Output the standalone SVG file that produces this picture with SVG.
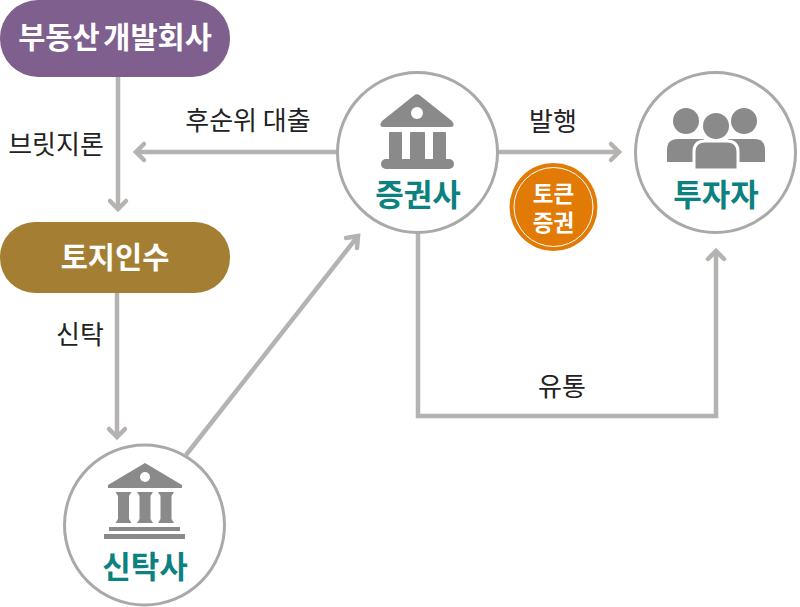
<svg xmlns="http://www.w3.org/2000/svg" width="800" height="607" viewBox="0 0 800 607">
<defs>
<style>
text{font-family:"Noto Sans CJK KR","Noto Sans",sans-serif;text-anchor:middle}
.lb{font-size:26px;fill:#222}
.nd{font-size:31px;font-weight:700;fill:#0b8180}
.pl{font-size:29.500px;font-weight:700;fill:#fff;word-spacing:-3px}
.c{fill:#fff;stroke:#a9a9a9;stroke-width:3}
.ic{fill:#8a8a8a}
.ln{fill:none;stroke:#b5b3b1;stroke-width:4.5}
.hd{fill:none;stroke:#b5b3b1;stroke-width:4.5;stroke-linecap:round;stroke-linejoin:miter}
</style>
<path id="col" d="M-8 0H8L5.500 4V27L8 31H-8L-5.500 27V4Z"/>
</defs>
<rect width="800" height="607" fill="#fff"/>
<g id="connectors">
<path class="ln" d="M118 76V208"/><path class="hd" d="M110 201l8 8 8-8"/>
<path class="ln" d="M337 152H136"/><path class="hd" d="M144 144l-8 8 8 8"/>
<path class="ln" d="M498 152H619"/><path class="hd" d="M611 144l8 8-8 8"/>
<path class="ln" d="M117 292V436"/><path class="hd" d="M109 429l8 8 8-8"/>
<path class="ln" d="M186 455L358 236"/><path class="hd" d="M346 238l12-2-1 12"/>
<path class="ln" d="M418 231V416H716V251"/><path class="hd" d="M708 259l8-8 8 8"/>
</g>
<g id="n1"><rect x="0" y="0" width="230" height="77" rx="38" fill="#7e5f8d"/><text class="pl" x="115" y="48">부동산 개발회사</text></g>
<g id="n2"><rect x="0" y="222" width="230" height="71" rx="35" fill="#a47f33"/><text class="pl" x="115" y="268">토지인수</text></g>
<g id="n3"><circle class="c" cx="417.500" cy="152.500" r="80"/>
<path class="ic" d="M414 95.500Q417 93 420 95.500L452 121Q456 127 450 127H384Q378 127 382 121Z"/>
<circle cx="417" cy="113" r="6" fill="#fff"/>
<rect class="ic" x="389" y="132" width="13" height="28" rx="1"/>
<rect class="ic" x="410" y="132" width="15" height="28" rx="1"/>
<rect class="ic" x="433" y="132" width="13" height="28" rx="1"/>
<rect class="ic" x="381" y="159" width="73" height="10" rx="5"/>
<text class="nd" x="418" y="206">증권사</text></g>
<g id="n4"><circle class="c" cx="715.500" cy="152.500" r="80"/>
<circle class="ic" cx="686" cy="121" r="13"/><circle class="ic" cx="744" cy="121" r="13"/>
<path class="ic" d="M667 162V150Q667 139 678 139H704V162Z"/>
<path class="ic" d="M765 162V150Q765 139 754 139H728V162Z"/>
<path class="ic" d="M694 170V152Q694 141 705 141H727Q738 141 738 152V170Z" stroke="#fff" stroke-width="3"/>
<circle class="ic" cx="716" cy="126" r="13"/>
<text class="nd" x="716" y="206">투자자</text></g>
<g id="n5"><circle class="c" cx="144.500" cy="525" r="80"/>
<path class="ic" d="M145 463L182 485V488H108V485Z"/>
<circle cx="145" cy="477" r="5" fill="#fff"/>
<use href="#col" class="ic" x="123.500" y="492"/>
<use href="#col" class="ic" x="145" y="492"/>
<use href="#col" class="ic" x="166" y="492"/>
<rect class="ic" x="109" y="527" width="71" height="4"/>
<rect class="ic" x="104" y="534" width="81" height="5"/>
<text class="nd" x="145" y="578">신탁사</text></g>
<g id="n6"><circle cx="553.500" cy="207" r="44" fill="#e27a06"/><circle cx="553.500" cy="207" r="39.500" fill="none" stroke="#fff" stroke-width="1"/><text font-size="22.500" font-weight="700" fill="#fff"><tspan x="553.500" y="202">토큰</tspan><tspan x="553.500" y="231">증권</tspan></text></g>
<g id="labels">
<text class="lb" x="56" y="154">브릿지론</text>
<text class="lb" x="248" y="130">후순위 대출</text>
<text class="lb" x="553" y="131">발행</text>
<text class="lb" x="80" y="344">신탁</text>
<text class="lb" x="562" y="396">유통</text>
</g>
</svg>
